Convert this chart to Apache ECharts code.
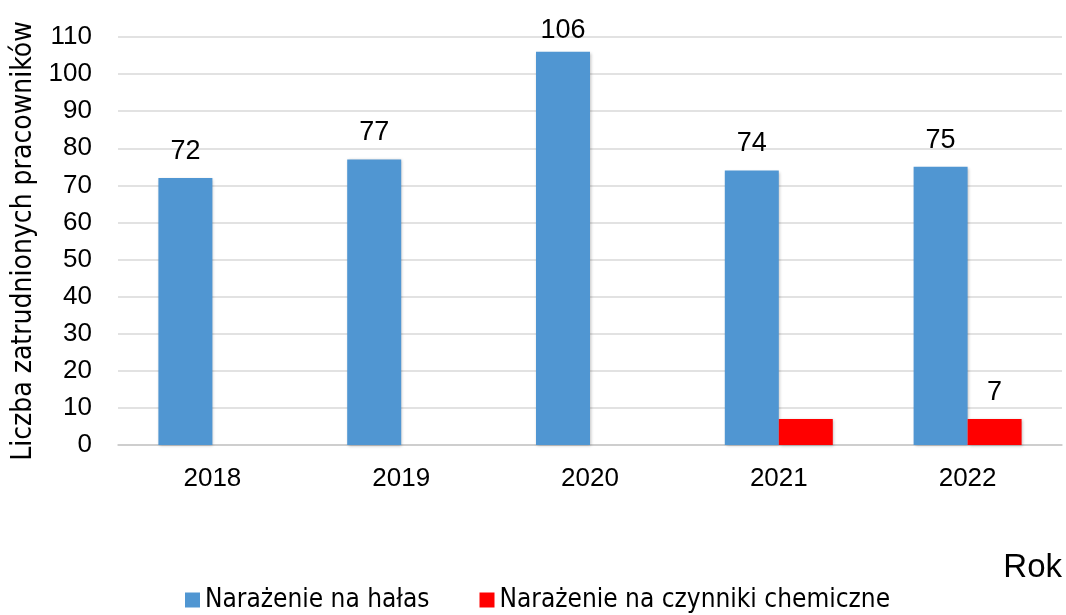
<!DOCTYPE html>
<html>
<head>
<meta charset="utf-8">
<script src="https://cdn.jsdelivr.net/npm/echarts@6/dist/echarts.min.js"></script>
<style>
  html, body { margin: 0; padding: 0; background: #fff; }
  #chart { width: 1066px; height: 615px; }
</style>
</head>
<body>
<div id="chart"></div>
<script>
const years = ["2018", "2019", "2020", "2021", "2022"];
const noise = [72, 77, 106, 74, 75];
const chemicals = [null, null, null, 7, 7];
// which red bars carry a value label in the original
const chemLabelShown = [false, false, false, false, true];
const yTicks = { min: 0, max: 110, interval: 10 };

const condensed = "DejaVu Sans Condensed, DejaVu Sans, sans-serif";
const arial = "Liberation Sans, Arial, sans-serif";

const chart = echarts.init(document.getElementById("chart"), null, { renderer: "canvas" });

const barLabel = {
  position: "top",
  distance: 13,
  fontFamily: arial,
  fontSize: 27,
  color: "#000",
};

// labels near the top of the plot get squeezed closer to the bar, like Excel does
const noiseData = noise.map((v) => ({
  value: v,
  label: v > yTicks.max - 8 ? { distance: 8 } : {},
}));

const option = {
  animation: false,
  textStyle: { fontFamily: condensed },
  grid: { left: 118, right: 4, top: 37, bottom: 170 },
  title: {
    text: "Rok",
    right: -1,
    top: 546,
    textStyle: { fontFamily: arial, fontSize: 33, fontWeight: "normal", color: "#000" },
  },
  legend: {
    top: 582,
    left: 180,
    itemWidth: 15,
    itemHeight: 15,
    itemGap: 50,
    icon: "rect",
    textStyle: { fontFamily: condensed, fontSize: 26, color: "#000" },
    data: ["Narażenie na hałas", "Narażenie na czynniki chemiczne"],
  },
  xAxis: {
    type: "category",
    data: years,
    axisTick: { show: false },
    axisLine: { lineStyle: { color: "#c8c8c8", width: 1.5 } },
    axisLabel: { fontFamily: arial, fontSize: 26, color: "#000", margin: 21 },
  },
  yAxis: {
    type: "value",
    min: yTicks.min,
    max: yTicks.max,
    interval: yTicks.interval,
    name: "Liczba zatrudnionych pracowników",
    nameLocation: "middle",
    nameGap: 77,
    nameTextStyle: { fontFamily: condensed, fontSize: 28, color: "#000" },
    axisLine: { show: false },
    axisTick: { show: false },
    axisLabel: { fontFamily: arial, fontSize: 26, color: "#000", margin: 26 },
    splitLine: { lineStyle: { color: "#d9d9d9", width: 1.5 } },
  },
  series: [
    {
      name: "Narażenie na hałas",
      type: "bar",
      barWidth: 54,
      barGap: "0%",
      data: noiseData,
      itemStyle: {
        color: "#5096d2",
        shadowColor: "rgba(0,0,0,0.25)",
        shadowBlur: 3,
        shadowOffsetX: 1,
        shadowOffsetY: 1,
      },
      label: Object.assign({ show: true }, barLabel),
    },
    {
      name: "Narażenie na czynniki chemiczne",
      type: "bar",
      barWidth: 54,
      barGap: "0%",
      data: chemicals.map((v, i) => ({
        value: v,
        label: { show: chemLabelShown[i] },
      })),
      itemStyle: {
        color: "#ff0000",
        shadowColor: "rgba(0,0,0,0.25)",
        shadowBlur: 3,
        shadowOffsetX: 1,
        shadowOffsetY: 1,
      },
      label: barLabel,
    },
  ],
};

chart.setOption(option);
</script>
</body>
</html>
